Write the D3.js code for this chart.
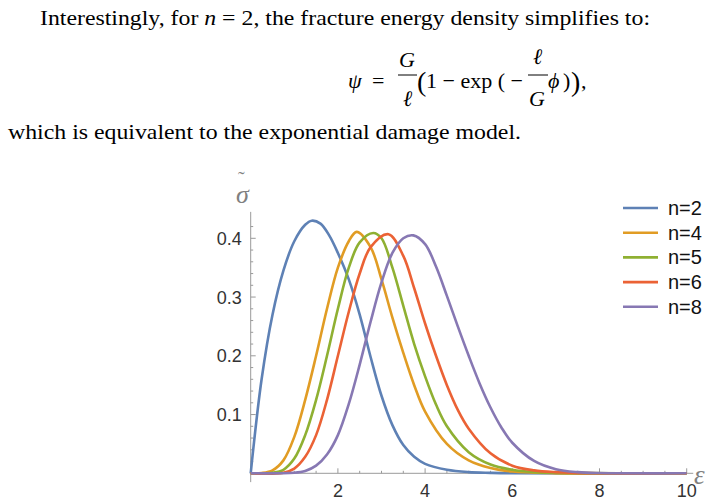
<!DOCTYPE html>
<html><head><meta charset="utf-8">
<script src="https://cdn.jsdelivr.net/npm/d3@7"></script>
<style>body{margin:0;background:#fff}svg{display:block}</style>
</head><body>
<svg id="c" width="727" height="504"></svg>
<script>
const seriesNames = ["n=2","n=4","n=5","n=6","n=8"];
const colors = ["#5e81b5","#e19c24","#8fb032","#eb6235","#8778b3"];
const eps2 = [0,0.25,0.5,0.75,1.0,1.25,1.4,1.6,1.8,2.0,2.25,2.5,2.75,3.0,3.25,3.5,3.75,4.0,4.5,5.0,5.5,6.0,10];
const sig2 = [0,0.16,0.27,0.345,0.395,0.423,0.43,0.425,0.405,0.375,0.33,0.27,0.198,0.132,0.082,0.048,0.028,0.016,0.006,0.002,0.0007,0,0];
const eps4 = [0,0.25,0.5,0.75,1.0,1.25,1.5,1.75,2.0,2.25,2.43,2.75,3.0,3.25,3.5,3.75,4.0,4.5,5.0,5.5,6.0,7.0,10];
const sig4 = [0,0.0005,0.005,0.022,0.062,0.125,0.2,0.28,0.35,0.395,0.411,0.385,0.33,0.265,0.205,0.15,0.105,0.05,0.022,0.009,0.003,0.0003,0];
const eps5 = [0,0.5,0.75,1.0,1.25,1.5,1.75,2.0,2.25,2.5,2.81,3.0,3.25,3.5,3.75,4.0,4.25,4.5,5.0,5.5,6.0,6.5,7.0,10];
const sig5 = [0,0.001,0.006,0.025,0.065,0.125,0.2,0.28,0.35,0.393,0.409,0.4,0.35,0.285,0.22,0.165,0.117,0.08,0.036,0.015,0.006,0.002,0.0008,0];
const eps6 = [0,0.75,1.0,1.25,1.5,1.75,2.0,2.25,2.5,2.75,3.16,3.5,3.75,4.0,4.25,4.5,4.75,5.0,5.5,6.0,6.5,7.0,8.0,10];
const sig6 = [0,0.001,0.008,0.028,0.065,0.125,0.2,0.275,0.34,0.385,0.407,0.37,0.315,0.255,0.2,0.15,0.108,0.076,0.034,0.013,0.005,0.002,0,0];
const eps8 = [0,1.0,1.25,1.5,1.75,2.0,2.25,2.5,2.75,3.0,3.25,3.5,3.73,4.0,4.25,4.5,4.75,5.0,5.25,5.5,5.75,6.0,6.5,7.0,7.5,8.0,10];
const sig8 = [0,0.001,0.004,0.013,0.032,0.065,0.118,0.185,0.258,0.325,0.375,0.4,0.405,0.39,0.352,0.302,0.25,0.2,0.153,0.112,0.078,0.052,0.021,0.007,0.002,0.0005,0];
const xTicks = [2,4,6,8,10];
const yTicks = [0.1,0.2,0.3,0.4];

const svg = d3.select("#c");
const serif = "'Liberation Serif','Times New Roman',serif";
const sans = "'Liberation Sans',Arial,sans-serif";

svg.append("text").attr("x",40).attr("y",25).attr("font-family",serif).attr("font-size",22)
  .attr("textLength",610).attr("lengthAdjust","spacingAndGlyphs")
  .html('Interestingly, for <tspan font-style="italic">n</tspan> = 2, the fracture energy density simplifies to:');
svg.append("text").attr("x",8).attr("y",139).attr("font-family",serif).attr("font-size",22)
  .attr("textLength",513).attr("lengthAdjust","spacingAndGlyphs")
  .text("which is equivalent to the exponential damage model.");

const f = svg.append("g").attr("font-family",serif).attr("font-size",22);
f.append("text").attr("x",348).attr("y",88).attr("font-style","italic").text("ψ");
f.append("text").attr("x",372).attr("y",88).text("=");
f.append("text").attr("x",399).attr("y",67).attr("font-style","italic").text("G");
f.append("line").attr("x1",398).attr("x2",417).attr("y1",75).attr("y2",75).attr("stroke","#000").attr("stroke-width",1);
f.append("text").attr("x",403).attr("y",106).attr("font-style","italic").text("ℓ");
f.append("text").attr("x",417).attr("y",91).attr("font-size",28).text("(");
f.append("text").attr("x",426).attr("y",88).text("1 − exp ( −");
f.append("text").attr("x",533).attr("y",64).attr("font-style","italic").text("ℓ");
f.append("line").attr("x1",528).attr("x2",548).attr("y1",75).attr("y2",75).attr("stroke","#000").attr("stroke-width",1);
f.append("text").attr("x",529).attr("y",106).attr("font-style","italic").text("G");
f.append("text").attr("x",548).attr("y",88).attr("font-style","italic").text("ϕ");
f.append("text").attr("x",563).attr("y",88).text(")");
f.append("text").attr("x",571).attr("y",91).attr("font-size",28).text(")");
f.append("text").attr("x",581).attr("y",88).text(",");

const x = d3.scaleLinear().domain([0,10]).range([250.7,686.7]);
const y = d3.scaleLinear().domain([0,0.4]).range([473.3,238.3]);
const axisCol = "#9a9a9a";

const xa = svg.append("g").attr("transform",`translate(0,${y(0)})`);
xa.append("line").attr("x1",x(0)).attr("x2",x(10.15)).attr("stroke",axisCol);
xa.selectAll("line.mn").data(d3.range(0.5,10.01,0.5)).join("line").attr("class","mn")
  .attr("x1",d=>x(d)).attr("x2",d=>x(d)).attr("y1",0).attr("y2",d=>d%2===0?-5:-2.5).attr("stroke",axisCol);
xa.selectAll("text").data(xTicks).join("text").attr("x",d=>x(d)).attr("y",24).attr("text-anchor","middle")
  .attr("font-family",sans).attr("font-size",18).attr("fill","#333").text(d=>d);

const ya = svg.append("g").attr("transform",`translate(${x(0)},0)`);
ya.append("line").attr("y1",y(-0.015)).attr("y2",y(0.445)).attr("stroke",axisCol);
ya.selectAll("line.mn").data(d3.range(1,22).map(i=>i*0.02)).join("line").attr("class","mn")
  .attr("y1",d=>y(d)).attr("y2",d=>y(d)).attr("x1",0).attr("x2",(d,i)=>(i%5===4)?5:2.5).attr("stroke",axisCol);
ya.selectAll("text").data(yTicks).join("text").attr("x",-9).attr("y",d=>y(d)+6.5).attr("text-anchor","end")
  .attr("font-family",sans).attr("font-size",18).attr("fill","#333").text(d=>d.toFixed(1));

svg.append("text").attr("x",236).attr("y",203).attr("font-family",serif).attr("font-style","italic")
  .attr("font-size",26).attr("fill","#808080").text("σ");
svg.append("text").attr("x",238).attr("y",186).attr("font-family",serif)
  .attr("font-size",20).attr("fill","#808080").text("˜");
svg.append("text").attr("x",694).attr("y",484).attr("font-family",serif).attr("font-style","italic")
  .attr("font-size",27).attr("fill","#808080").text("ε");

const data = [[eps2,sig2],[eps4,sig4],[eps5,sig5],[eps6,sig6],[eps8,sig8]];
const line = d3.line().x(d=>x(d[0])).y(d=>y(d[1])).curve(d3.curveCatmullRom.alpha(0.5));
data.forEach(([e,s],i)=>{
  svg.append("path").datum(e.map((v,j)=>[v,s[j]])).attr("d",line).attr("fill","none")
    .attr("stroke",colors[i]).attr("stroke-width",2.6);
});

const lg = svg.append("g");
seriesNames.forEach((n,i)=>{
  const yy = 208 + i*24.7;
  lg.append("line").attr("x1",623).attr("x2",658).attr("y1",yy).attr("y2",yy).attr("stroke",colors[i]).attr("stroke-width",2.6);
  lg.append("text").attr("x",668).attr("y",yy+7).attr("font-family",sans).attr("font-size",20).attr("fill","#111").text(n);
});
</script>
</body></html>
